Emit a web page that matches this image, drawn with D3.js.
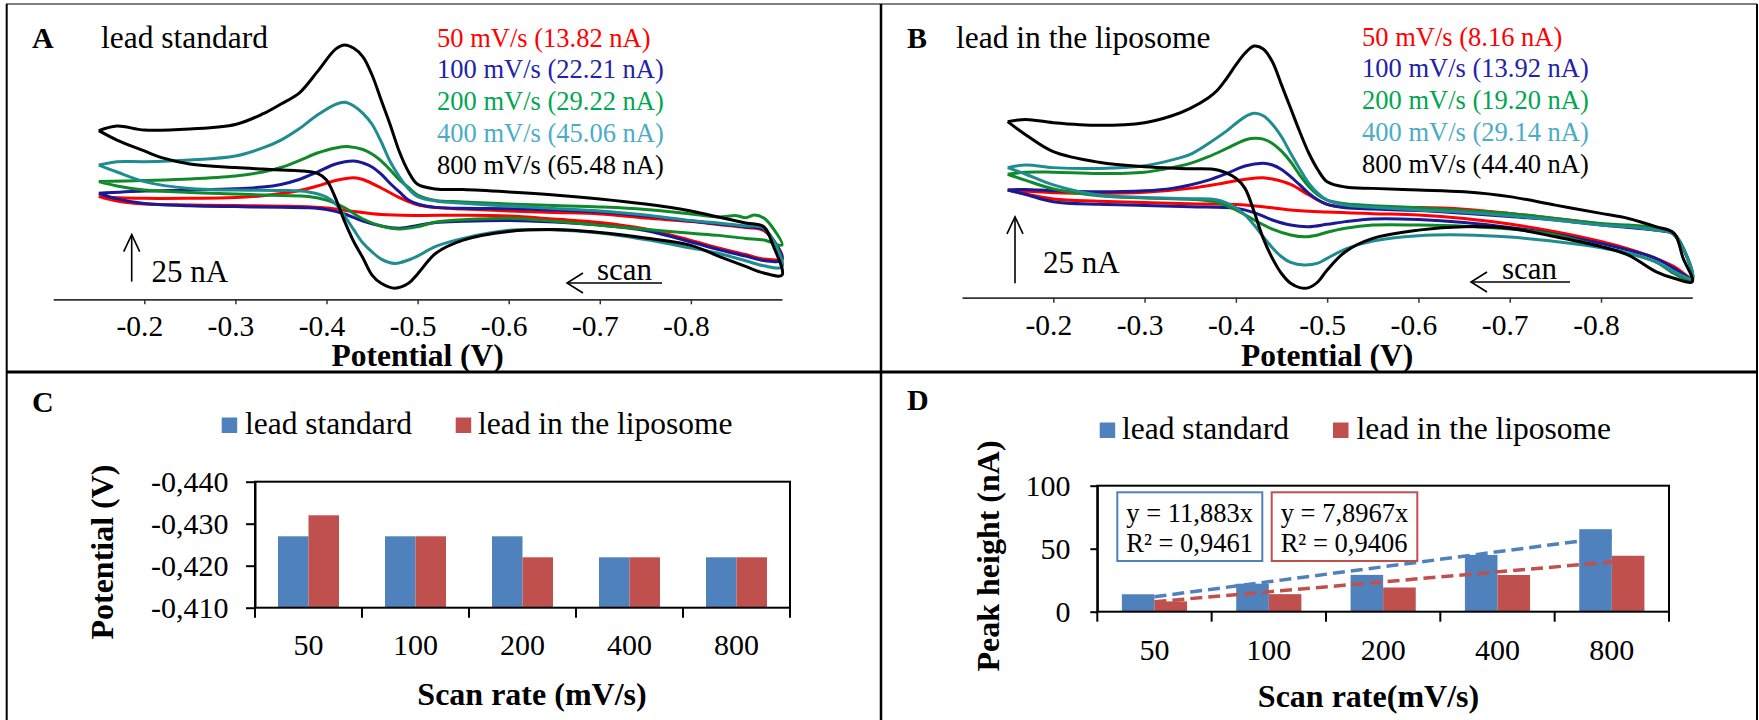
<!DOCTYPE html>
<html><head><meta charset="utf-8">
<script src="https://cdn.jsdelivr.net/npm/d3@7"></script>
<style>
html,body{margin:0;padding:0;background:#fff;}
svg{display:block;font-family:"Liberation Serif","Times New Roman",serif;}
</style></head><body>
<svg id="fig" width="1759" height="720"></svg>
<script>
// ---------------- DATA ----------------
const rates = ["50","100","200","400","800"];
const peakStd = [13.82, 22.21, 29.22, 45.06, 65.48];   // nA, lead standard
const peakLip = [8.16, 13.92, 19.20, 29.14, 44.40];    // nA, lead in the liposome
const epStd = [-0.427, -0.427, -0.427, -0.422, -0.422]; // V
const epLip = [-0.432, -0.427, -0.422, -0.422, -0.422]; // V
const slopeStd = 11.883, r2Std = 0.9461;
const slopeLip = 7.8967, r2Lip = 0.9406;
const potTicks = [-0.2,-0.3,-0.4,-0.5,-0.6,-0.7,-0.8];
const cTicks = [-0.44,-0.43,-0.42,-0.41];
const dTicks = [0,50,100];
const scaleBarNA = 25;

// Cyclic voltammograms: [potential V, current nA (arbitrary offset)]
// Panel A: lead standard
const a800up = [[-0.15,89.7],[-0.17,92.2],[-0.20,90.0],[-0.25,90.6],[-0.30,93.0],[-0.33,98.6],[-0.35,103.9],[-0.37,109.7],[-0.39,121.1],[-0.41,133.1],[-0.42,135.3],[-0.43,133.5],[-0.44,129.0],[-0.45,119.3],[-0.46,106.0],[-0.47,92.7],[-0.48,78.5],[-0.49,67.9],[-0.50,61.2],[-0.52,58.7],[-0.55,58.4],[-0.60,57.1],[-0.65,55.5],[-0.70,53.4],[-0.75,50.7],[-0.80,47.0],[-0.83,43.8],[-0.86,40.6],[-0.88,38.6],[-0.89,28.9],[-0.90,12.9]];
const a800dn = [[-0.90,12.9],[-0.88,14.0],[-0.86,17.5],[-0.83,23.0],[-0.80,28.7],[-0.75,32.6],[-0.70,35.5],[-0.65,37.1],[-0.60,36.1],[-0.55,31.5],[-0.52,24.5],[-0.50,13.5],[-0.49,8.5],[-0.475,5.9],[-0.46,8.5],[-0.45,12.9],[-0.44,22.0],[-0.43,30.6],[-0.42,41.3],[-0.41,53.7],[-0.40,63.5],[-0.39,67.0],[-0.37,68.4],[-0.35,68.8],[-0.33,69.3],[-0.30,70.1],[-0.25,72.0],[-0.22,75.2],[-0.20,78.9],[-0.17,84.7],[-0.15,89.7]];
const a400up = [[-0.15,71.4],[-0.17,73.2],[-0.20,73.2],[-0.25,74.1],[-0.30,76.2],[-0.33,80.5],[-0.35,84.7],[-0.37,90.7],[-0.39,98.0],[-0.41,103.7],[-0.42,104.8],[-0.43,102.8],[-0.44,98.9],[-0.45,93.1],[-0.46,83.8],[-0.47,73.2],[-0.48,65.2],[-0.49,58.7],[-0.50,54.6],[-0.52,52.3],[-0.55,51.1],[-0.60,49.6],[-0.65,48.3],[-0.70,47.0],[-0.75,44.8],[-0.80,41.9],[-0.83,40.6],[-0.86,39.0],[-0.88,37.9],[-0.90,17.3]];
const a400dn = [[-0.90,17.3],[-0.88,17.8],[-0.86,20.5],[-0.83,24.5],[-0.80,27.3],[-0.75,31.8],[-0.70,35.3],[-0.65,36.9],[-0.60,36.7],[-0.55,32.4],[-0.52,28.1],[-0.50,23.0],[-0.49,20.9],[-0.475,19.1],[-0.46,21.4],[-0.45,25.2],[-0.44,29.9],[-0.43,36.9],[-0.42,44.3],[-0.41,50.7],[-0.40,54.4],[-0.38,57.1],[-0.35,57.9],[-0.30,58.1],[-0.25,58.9],[-0.20,62.6],[-0.17,67.7],[-0.15,71.4]];
const a200up = [[-0.15,62.6],[-0.20,63.2],[-0.25,64.0],[-0.30,65.6],[-0.33,67.7],[-0.35,70.1],[-0.37,73.8],[-0.39,77.8],[-0.41,80.5],[-0.425,81.2],[-0.44,79.7],[-0.45,77.3],[-0.46,73.6],[-0.47,68.8],[-0.48,63.5],[-0.49,59.5],[-0.50,55.5],[-0.52,52.6],[-0.55,51.8],[-0.60,50.7],[-0.65,49.9],[-0.70,49.1],[-0.75,47.8],[-0.80,45.4],[-0.83,43.8],[-0.85,44.5],[-0.86,43.4],[-0.87,44.8],[-0.88,43.2],[-0.89,37.9],[-0.90,28.9]];
const a200dn = [[-0.90,28.9],[-0.88,31.5],[-0.86,32.4],[-0.83,34.0],[-0.80,35.1],[-0.75,37.2],[-0.70,39.4],[-0.65,41.5],[-0.60,43.1],[-0.55,42.3],[-0.52,41.1],[-0.50,38.6],[-0.48,37.4],[-0.46,39.0],[-0.44,42.7],[-0.42,48.6],[-0.40,52.8],[-0.38,54.7],[-0.35,55.2],[-0.30,56.0],[-0.25,56.8],[-0.20,58.1],[-0.17,60.3],[-0.15,62.6]];
const a100up = [[-0.15,56.4],[-0.20,57.6],[-0.25,58.1],[-0.30,58.8],[-0.33,59.7],[-0.35,61.1],[-0.37,63.7],[-0.39,67.7],[-0.41,72.0],[-0.43,73.6],[-0.44,72.5],[-0.45,70.4],[-0.46,66.6],[-0.47,61.6],[-0.48,57.1],[-0.49,52.8],[-0.50,50.7],[-0.52,48.9],[-0.55,48.4],[-0.60,48.2],[-0.65,47.5],[-0.70,46.4],[-0.75,44.3],[-0.80,41.6],[-0.83,40.1],[-0.86,38.5],[-0.88,37.1],[-0.90,20.9]];
const a100dn = [[-0.90,20.9],[-0.88,20.6],[-0.86,23.0],[-0.83,26.5],[-0.80,30.5],[-0.75,36.6],[-0.70,39.5],[-0.65,41.1],[-0.60,41.9],[-0.55,41.5],[-0.52,40.9],[-0.50,39.3],[-0.48,37.8],[-0.46,39.0],[-0.44,41.6],[-0.42,45.4],[-0.40,47.8],[-0.38,48.7],[-0.35,48.9],[-0.30,49.3],[-0.25,49.8],[-0.20,51.0],[-0.17,53.4],[-0.15,56.4]];
const a50up = [[-0.15,54.6],[-0.20,53.7],[-0.25,53.7],[-0.30,54.1],[-0.33,55.1],[-0.35,56.3],[-0.37,57.9],[-0.39,60.3],[-0.41,63.2],[-0.43,64.7],[-0.44,63.7],[-0.46,59.2],[-0.48,54.1],[-0.50,50.2],[-0.52,48.8],[-0.55,48.0],[-0.60,47.0],[-0.65,46.2],[-0.70,45.4],[-0.75,43.2],[-0.80,41.4],[-0.83,39.8],[-0.86,38.2],[-0.88,36.6],[-0.90,21.8]];
const a50dn = [[-0.90,21.8],[-0.88,21.4],[-0.86,23.8],[-0.83,27.3],[-0.80,31.3],[-0.75,37.4],[-0.70,40.9],[-0.65,42.7],[-0.60,44.3],[-0.55,44.7],[-0.50,44.6],[-0.46,45.1],[-0.43,46.7],[-0.40,48.6],[-0.37,49.4],[-0.30,49.9],[-0.25,50.2],[-0.20,50.7],[-0.17,52.3],[-0.15,54.6]];

// Panel B: lead in the liposome
const b800up = [[-0.15,66.2],[-0.17,67.0],[-0.20,65.8],[-0.25,64.8],[-0.30,65.8],[-0.33,68.4],[-0.35,71.2],[-0.37,75.2],[-0.38,78.1],[-0.39,82.5],[-0.40,87.5],[-0.41,91.9],[-0.42,94.6],[-0.43,93.5],[-0.44,88.7],[-0.45,80.0],[-0.46,71.2],[-0.47,62.4],[-0.48,54.3],[-0.49,48.0],[-0.50,43.6],[-0.52,41.6],[-0.55,41.1],[-0.60,40.5],[-0.65,39.8],[-0.70,38.0],[-0.75,34.8],[-0.80,31.7],[-0.83,29.8],[-0.86,26.7],[-0.88,24.2],[-0.89,14.8],[-0.90,6.0]];
const b800dn = [[-0.90,6.0],[-0.88,7.3],[-0.86,9.8],[-0.83,16.0],[-0.80,19.2],[-0.75,22.9],[-0.70,26.1],[-0.65,26.7],[-0.60,25.4],[-0.55,22.3],[-0.52,17.3],[-0.50,10.4],[-0.49,6.0],[-0.48,3.8],[-0.47,3.8],[-0.46,5.4],[-0.45,9.1],[-0.44,14.8],[-0.43,22.3],[-0.42,32.3],[-0.41,41.1],[-0.40,44.9],[-0.38,48.0],[-0.35,48.5],[-0.30,49.2],[-0.25,50.9],[-0.20,54.9],[-0.17,61.2],[-0.15,66.2]];
const b400up = [[-0.15,48.9],[-0.17,49.9],[-0.20,48.9],[-0.25,48.6],[-0.30,49.6],[-0.33,51.8],[-0.35,53.9],[-0.37,58.0],[-0.39,62.7],[-0.40,65.5],[-0.41,68.0],[-0.42,69.3],[-0.43,68.4],[-0.44,65.2],[-0.45,60.5],[-0.46,54.3],[-0.47,48.4],[-0.48,43.0],[-0.49,39.2],[-0.50,36.7],[-0.52,34.8],[-0.55,34.0],[-0.60,33.0],[-0.65,32.1],[-0.70,30.8],[-0.75,29.2],[-0.80,27.3],[-0.83,26.7],[-0.86,25.4],[-0.88,23.6],[-0.90,7.3]];
const b400dn = [[-0.90,7.3],[-0.88,9.8],[-0.86,13.5],[-0.83,16.7],[-0.80,18.8],[-0.75,21.1],[-0.70,22.8],[-0.65,23.6],[-0.60,23.3],[-0.55,21.3],[-0.52,18.3],[-0.50,14.8],[-0.49,13.0],[-0.475,12.3],[-0.46,13.3],[-0.45,15.4],[-0.44,18.8],[-0.43,22.9],[-0.42,27.3],[-0.41,31.1],[-0.40,33.8],[-0.38,36.7],[-0.35,37.2],[-0.30,37.7],[-0.25,38.6],[-0.20,42.4],[-0.17,46.4],[-0.15,48.9]];
const b200up = [[-0.15,46.4],[-0.17,47.2],[-0.20,47.2],[-0.25,46.7],[-0.30,47.2],[-0.33,48.9],[-0.35,50.5],[-0.37,53.0],[-0.39,56.1],[-0.41,59.3],[-0.42,59.9],[-0.43,59.6],[-0.44,58.0],[-0.45,55.1],[-0.46,51.1],[-0.47,46.1],[-0.48,41.7],[-0.49,38.6],[-0.50,36.7],[-0.52,35.3],[-0.55,34.6],[-0.60,33.8],[-0.65,32.8],[-0.70,31.7],[-0.75,29.8],[-0.80,27.9],[-0.83,27.3],[-0.86,26.3],[-0.88,24.2],[-0.90,6.6]];
const b200dn = [[-0.90,6.6],[-0.88,9.1],[-0.86,13.5],[-0.83,16.7],[-0.80,19.2],[-0.75,23.6],[-0.70,25.8],[-0.65,26.9],[-0.60,27.3],[-0.55,27.3],[-0.52,26.1],[-0.50,24.6],[-0.49,23.6],[-0.475,22.9],[-0.46,23.6],[-0.44,25.8],[-0.42,29.2],[-0.40,33.0],[-0.38,35.8],[-0.35,37.0],[-0.30,37.5],[-0.25,38.3],[-0.20,40.9],[-0.17,44.1],[-0.15,46.4]];
const b100up = [[-0.15,40.5],[-0.17,40.7],[-0.20,40.2],[-0.25,39.8],[-0.30,40.2],[-0.33,41.1],[-0.35,42.4],[-0.37,44.2],[-0.39,46.7],[-0.41,49.5],[-0.43,50.5],[-0.44,49.9],[-0.45,48.2],[-0.46,45.5],[-0.47,42.4],[-0.48,39.2],[-0.49,36.7],[-0.50,35.1],[-0.52,33.8],[-0.55,33.3],[-0.60,32.8],[-0.65,31.7],[-0.70,30.5],[-0.75,29.2],[-0.80,27.3],[-0.83,26.4],[-0.86,25.4],[-0.88,23.8],[-0.90,7.3]];
const b100dn = [[-0.90,7.3],[-0.88,11.0],[-0.86,14.8],[-0.83,17.9],[-0.80,20.4],[-0.75,23.9],[-0.70,26.4],[-0.65,28.3],[-0.60,29.4],[-0.55,29.6],[-0.52,28.6],[-0.50,27.6],[-0.48,26.7],[-0.46,27.3],[-0.44,29.2],[-0.42,32.0],[-0.40,33.6],[-0.35,34.2],[-0.30,34.7],[-0.25,35.1],[-0.20,36.1],[-0.17,38.8],[-0.15,40.5]];
const b50up = [[-0.15,40.5],[-0.20,39.5],[-0.25,39.2],[-0.30,39.6],[-0.35,41.1],[-0.38,42.7],[-0.40,44.0],[-0.42,44.9],[-0.43,45.1],[-0.44,44.6],[-0.46,42.6],[-0.48,38.6],[-0.50,35.1],[-0.52,34.1],[-0.55,33.8],[-0.60,33.9],[-0.65,33.3],[-0.70,31.7],[-0.75,29.8],[-0.80,27.7],[-0.83,26.7],[-0.86,25.4],[-0.88,23.8],[-0.90,7.3]];
const b50dn = [[-0.90,7.3],[-0.88,11.7],[-0.86,14.8],[-0.83,18.3],[-0.80,21.1],[-0.75,24.8],[-0.70,27.7],[-0.65,29.8],[-0.60,31.1],[-0.55,31.6],[-0.50,32.2],[-0.46,33.0],[-0.43,34.2],[-0.40,35.0],[-0.35,35.3],[-0.30,35.8],[-0.25,36.3],[-0.20,37.1],[-0.15,40.5]];

const cvLineColors = ["#ff0000","#1a1a96","#108a28","#1e8c91","#000000"];
const cvTextColors = ["#ff0000","#2222aa","#00a650","#4bacc6","#000000"];
const barColors = {std:"#4f81bd", lip:"#c0504d"};
const seriesNames = {std:"lead standard", lip:"lead in the liposome"};

// ---------------- DRAW ----------------
const FONT = '"Liberation Serif","Times New Roman",serif';
const svg = d3.select("#fig");
svg.append("rect").attr("width",1759).attr("height",720).attr("fill","#fff");

function txt(g, x, y, s, size, o = {}) {
  return g.append("text").attr("x", x).attr("y", y).attr("font-size", size)
    .attr("font-weight", o.bold ? "bold" : null).attr("fill", o.fill || "#000")
    .attr("text-anchor", o.anchor || "start").text(s);
}

function drawCV(p) {
  const g = svg.append("g");
  const x = d3.scaleLinear().domain([-0.2, -0.8]).range([p.x02, p.x08]);
  const y = d3.scaleLinear().domain([0, 100]).range([p.axisY, p.axisY - 100 * p.pxPerNA]);
  const xa = x.copy().domain([-0.1, -0.9]).range([x(-0.1), x(-0.9)]);
  const ax = g.append("g").attr("transform", `translate(0,${p.axisY})`)
    .call(d3.axisBottom(xa).tickValues(potTicks).tickFormat(d => d.toFixed(1))
      .tickSize(5).tickSizeOuter(0).tickPadding(11));
  ax.attr("font-family", FONT).attr("font-size", 29.5);
  ax.select(".domain").attr("stroke", "#333").attr("stroke-width", 1.8);
  ax.selectAll(".tick line").attr("stroke", "#333").attr("stroke-width", 1.5);
  ax.selectAll(".tick text").attr("fill", "#000").attr("dx", -5);

  const line = d3.line().x(d => x(d[0])).y(d => y(d[1])).curve(d3.curveCatmullRom.alpha(0.5));
  p.curves.forEach((c, i) => {
    g.append("path").attr("d", line(c[0].concat(c[1].slice(1))))
      .attr("fill", "none").attr("stroke", cvLineColors[i]).attr("stroke-width", 3)
      .attr("stroke-linejoin", "round");
  });

  // labels
  txt(g, p.letterX, p.titleY, p.letter, 30, {bold: true});
  txt(g, p.titleX, p.titleY, p.title, 31.5);
  rates.forEach((r, i) => {
    txt(g, p.legX, p.legY + i * 31.8, `${r} mV/s (${p.peaks[i].toFixed(2)} nA)`, 26.5, {fill: cvTextColors[i]});
  });
  txt(g, x(-0.5), 366, "Potential (V)", 31.5, {bold: true, anchor: "middle"});

  // scale bar (25 nA)
  const yb = y(p.barBase), yt = y(p.barBase + scaleBarNA);
  g.append("line").attr("x1", p.barX).attr("x2", p.barX).attr("y1", yb).attr("y2", yt)
    .attr("stroke", "#000").attr("stroke-width", 1.6);
  g.append("polyline").attr("points", `${p.barX - 8},${yt + 17} ${p.barX},${yt} ${p.barX + 8},${yt + 17}`)
    .attr("fill", "none").attr("stroke", "#000").attr("stroke-width", 1.6);
  txt(g, p.barTextX, p.barTextY, `${scaleBarNA} nA`, 31);

  // scan arrow
  g.append("line").attr("x1", p.scanX0).attr("x2", p.scanX1).attr("y1", p.scanY).attr("y2", p.scanY)
    .attr("stroke", "#000").attr("stroke-width", 1.6);
  g.append("polyline").attr("points", `${p.scanX0 + 16},${p.scanY - 10} ${p.scanX0},${p.scanY} ${p.scanX0 + 16},${p.scanY + 10}`)
    .attr("fill", "none").attr("stroke", "#000").attr("stroke-width", 1.6);
  txt(g, p.scanTextX, p.scanY - 3, "scan", 31);
}

drawCV({
  letter: "A", letterX: 32, title: "lead standard", titleX: 101, titleY: 48,
  x02: 144.3, x08: 690.9, axisY: 299.3, pxPerNA: 1.88,
  curves: [[a50up,a50dn],[a100up,a100dn],[a200up,a200dn],[a400up,a400dn],[a800up,a800dn]],
  peaks: peakStd, legX: 437, legY: 46.5,
  barX: 131.7, barBase: 9.4, barTextX: 151.5, barTextY: 281.7,
  scanX0: 567, scanX1: 662, scanY: 283, scanTextX: 597
});
drawCV({
  letter: "B", letterX: 907, title: "lead in the liposome", titleX: 956, titleY: 48,
  x02: 1053.3, x08: 1601, axisY: 297.7, pxPerNA: 2.66,
  curves: [[b50up,b50dn],[b100up,b100dn],[b200up,b200dn],[b400up,b400dn],[b800up,b800dn]],
  peaks: peakLip, legX: 1362, legY: 45.5,
  barX: 1015, barBase: 5.4, barTextX: 1043, barTextY: 273,
  scanX0: 1471, scanX1: 1570, scanY: 282, scanTextX: 1502
});

function drawBars(p) {
  const g = svg.append("g");
  const x = d3.scaleBand().domain(rates).range([p.left, p.right]).paddingInner(0.43).paddingOuter(0.215);
  const xs = d3.scaleBand().domain(["std", "lip"]).range([0, x.bandwidth()]);
  const y = d3.scaleLinear().domain(p.yDomain).range([p.bottom, p.top]);
  const series = [{key: "std", values: p.std}, {key: "lip", values: p.lip}];
  series.forEach(s => {
    g.selectAll(null).data(s.values).join("rect")
      .attr("x", (d, i) => x(rates[i]) + xs(s.key))
      .attr("width", xs.bandwidth())
      .attr("y", d => Math.min(y(d), y(p.base)))
      .attr("height", d => Math.abs(y(p.base) - y(d)))
      .attr("fill", barColors[s.key]);
  });
  // plot frame
  g.append("rect").attr("x", p.left).attr("y", p.top).attr("width", p.right - p.left)
    .attr("height", p.bottom - p.top).attr("fill", "none").attr("stroke", "#000").attr("stroke-width", 2);
  // y axis
  const ay = g.append("g").attr("transform", `translate(${p.left},0)`)
    .call(d3.axisLeft(y).tickValues(p.ticks).tickFormat(p.fmt).tickSize(p.tickSize).tickSizeOuter(0).tickPadding(p.tickPad));
  ay.attr("font-family", FONT).attr("font-size", 30);
  ay.select(".domain").attr("stroke", "#000").attr("stroke-width", 2);
  ay.selectAll(".tick line").attr("stroke", "#000").attr("stroke-width", 2);
  ay.selectAll(".tick text").attr("fill", "#000");
  // x axis labels
  const axx = g.append("g").attr("transform", `translate(0,${p.bottom})`)
    .call(d3.axisBottom(x).tickSize(0).tickPadding(p.xLabPad));
  axx.attr("font-family", FONT).attr("font-size", 30);
  axx.select(".domain").remove();
  axx.selectAll(".tick text").attr("fill", "#000");
  // category boundary ticks
  g.selectAll(null).data(d3.range(rates.length + 1)).join("line")
    .attr("x1", i => p.left + i * x.step()).attr("x2", i => p.left + i * x.step())
    .attr("y1", p.bottom).attr("y2", p.bottom + 10).attr("stroke", "#000").attr("stroke-width", 2);
  // legend
  [["std", p.legSq1, p.legTx1], ["lip", p.legSq2, p.legTx2]].forEach(([k, sx, tx]) => {
    g.append("rect").attr("x", sx).attr("y", p.legY - 16.5).attr("width", 15.5).attr("height", 15.5).attr("fill", barColors[k]);
    txt(g, tx, p.legY, seriesNames[k], 31.5);
  });
  txt(g, p.letterX, p.letterY, p.letter, 30, {bold: true});
  txt(g, p.xTitleX, p.xTitleY, p.xTitle, 32, {bold: true, anchor: "middle"});
  g.append("text").attr("transform", `translate(${p.yTitleX},${p.yTitleY}) rotate(-90)`)
    .attr("text-anchor", "middle").attr("font-size", 32).attr("font-weight", "bold").text(p.yTitle);
  return {g, x, y};
}

drawBars({
  letter: "C", letterX: 32, letterY: 411.5, left: 255, right: 790, top: 481.7, bottom: 607.7,
  yDomain: [-0.41, -0.44], base: -0.41, ticks: cTicks, fmt: d => d.toFixed(3).replace(".", ","),
  tickSize: 9, tickPad: 17.5, std: epStd, lip: epLip,
  legSq1: 221.7, legTx1: 245, legSq2: 455.7, legTx2: 478, legY: 434,
  xLabPad: 26, xTitle: "Scan rate (mV/s)", xTitleX: 532, xTitleY: 705,
  yTitle: "Potential (V)", yTitleX: 113, yTitleY: 552
});

const D = drawBars({
  letter: "D", letterX: 907, letterY: 410, left: 1097.3, right: 1669, top: 485.7, bottom: 611.7,
  yDomain: [0, 100], base: 0, ticks: dTicks, fmt: d => String(d),
  tickSize: 7, tickPad: 19.7, std: peakStd, lip: peakLip,
  legSq1: 1099.7, legTx1: 1122, legSq2: 1333, legTx2: 1356.5, legY: 439,
  xLabPad: 27, xTitle: "Scan rate(mV/s)", xTitleX: 1368.5, xTitleY: 707,
  yTitle: "Peak height (nA)", yTitleX: 999, yTitleY: 556
});

// trend lines y = a*x (x = category index 1..5)
const tl = d3.line().x(d => D.x(rates[d[0] - 1]) + D.x.bandwidth() / 2).y(d => D.y(d[1]));
[[slopeStd, "std"], [slopeLip, "lip"]].forEach(([a, k]) => {
  D.g.append("path").attr("d", tl([[1, a * 1], [rates.length, a * rates.length]]))
    .attr("fill", "none").attr("stroke", barColors[k]).attr("stroke-width", 3.5)
    .attr("stroke-dasharray", "12,6");
});
// equation boxes
[[slopeStd, r2Std, "std", 1117.3, 145], [slopeLip, r2Lip, "lip", 1271.7, 145.6]].forEach(([a, r2, k, bx, bw]) => {
  D.g.append("rect").attr("x", bx).attr("y", 492.3).attr("width", bw).attr("height", 68.7)
    .attr("fill", "#fff").attr("stroke", barColors[k]).attr("stroke-width", 2);
  txt(D.g, bx + 9, 521.7, `y = ${String(a).replace(".", ",")}x`, 26.5);
  txt(D.g, bx + 9, 551.7, `R² = ${r2.toFixed(4).replace(".", ",")}`, 26.5);
});

// figure frame
const fr = svg.append("g").attr("stroke", "#000").attr("fill", "none");
fr.append("line").attr("x1", 6).attr("x2", 1757).attr("y1", 4).attr("y2", 4).attr("stroke", "#555").attr("stroke-width", 1.5);
fr.append("line").attr("x1", 6.7).attr("x2", 6.7).attr("y1", 4).attr("y2", 720).attr("stroke-width", 2);
fr.append("line").attr("x1", 1757).attr("x2", 1757).attr("y1", 4).attr("y2", 720).attr("stroke-width", 2);
fr.append("line").attr("x1", 881).attr("x2", 881).attr("y1", 4).attr("y2", 720).attr("stroke-width", 2.5);
fr.append("line").attr("x1", 6).attr("x2", 1757).attr("y1", 372).attr("y2", 372).attr("stroke-width", 3);
</script>
</body></html>
